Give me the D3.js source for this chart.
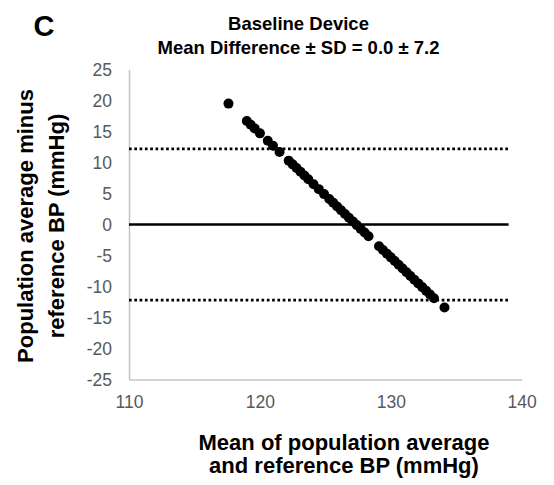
<!DOCTYPE html>
<html>
<head>
<meta charset="utf-8">
<script src="https://cdn.jsdelivr.net/npm/d3@7"></script>
<style>
  html, body { margin: 0; padding: 0; background: #fff; }
  svg { display: block; font-family: "Liberation Sans", Arial, sans-serif; }
</style>
</head>
<body>
<svg id="chart" width="554" height="485"></svg>
<script>
// Bland–Altman points: mean of the two readings (x) and their difference (y), mmHg
const meanBP = [
  117.6,
  119.0, 119.3, 119.6, 120.0,
  120.6, 121.0, 121.5,
  122.2, 122.5, 122.8, 123.1, 123.4, 123.7,
  124.1, 124.5, 124.9,
  125.3, 125.6, 125.9, 126.2, 126.5, 126.8, 127.1, 127.4, 127.7, 128.0, 128.3,
  129.1, 129.4, 129.7, 130.0, 130.3, 130.6, 130.9, 131.2, 131.5, 131.8, 132.1, 132.4, 132.7, 133.0, 133.3,
  134.1
];
const diffBP = [
  19.5,
  16.7, 16.1, 15.5, 14.7,
  13.5, 12.7, 11.7,
  10.3, 9.7, 9.1, 8.5, 7.9, 7.3,
  6.5, 5.7, 4.9,
  4.1, 3.5, 2.9, 2.3, 1.7, 1.1, 0.5, -0.1, -0.7, -1.3, -1.9,
  -3.5, -4.1, -4.7, -5.3, -5.9, -6.5, -7.1, -7.7, -8.3, -8.9, -9.5, -10.1, -10.7, -11.3, -11.9,
  -13.4
];

// Reference lines: mean difference and limits of agreement
const refLevels = [12.2, 0, -12.2];
const refStyles = ["dotted", "solid", "dotted"];
const refSpan = [110, 139];

const xTicks = [110, 120, 130, 140];
const yTicks = [25, 20, 15, 10, 5, 0, -5, -10, -15, -20, -25];

const titleLines = ["Baseline Device", "Mean Difference \u00B1 SD = 0.0 \u00B1 7.2"];
const xTitleLines = ["Mean of population average", "and reference BP (mmHg)"];
const yTitleLines = ["Population average minus", "reference BP (mmHg)"];
const panelLabel = "C";

const svg = d3.select("#chart");

const x = d3.scaleLinear().domain([110, 140]).range([129, 521.7]);
const y = d3.scaleLinear().domain([-25, 25]).range([379.5, 69.5]);

// plain hyphen-minus for negative tick labels
const plainNum = d => String(d);

// axes (no tick marks, light grey axis lines)
const yAxis = svg.append("g")
  .attr("transform", `translate(${x(110)},0)`)
  .call(d3.axisLeft(y).tickValues(yTicks).tickSize(0).tickPadding(17).tickFormat(plainNum));
const xAxis = svg.append("g")
  .attr("transform", `translate(0,${y(-25)})`)
  .call(d3.axisBottom(x).tickValues(xTicks).tickSize(0).tickPadding(16).tickFormat(plainNum));

[yAxis, xAxis].forEach(g => {
  g.select(".domain").attr("stroke", "#c4c4c4").attr("stroke-width", 1.5);
  g.selectAll("text")
    .attr("fill", "#595959")
    .style("font-size", "17.5px")
    .style("font-family", "'Liberation Sans', Arial, sans-serif");
});

// reference lines
svg.append("g").selectAll("line")
  .data(refLevels)
  .join("line")
  .attr("x1", x(refSpan[0]))
  .attr("x2", x(refSpan[1]))
  .attr("y1", d => y(d))
  .attr("y2", d => y(d))
  .attr("stroke", "#000")
  .attr("stroke-width", 2.6)
  .attr("stroke-dasharray", (d, i) => refStyles[i] === "solid" ? null : "2.7,2.6");

// points
svg.append("g").selectAll("circle")
  .data(meanBP.map((m, i) => [m, diffBP[i]]))
  .join("circle")
  .attr("cx", d => x(d[0]))
  .attr("cy", d => y(d[1]))
  .attr("r", 5)
  .attr("fill", "#000");

// chart title
svg.append("text")
  .attr("x", 298.5)
  .attr("y", 29.5)
  .attr("text-anchor", "middle")
  .style("font-size", "18.5px")
  .style("font-weight", "bold")
  .selectAll("tspan")
  .data(titleLines)
  .join("tspan")
  .attr("x", 298.5)
  .attr("dy", (d, i) => i === 0 ? 0 : 24)
  .text(d => d);

// panel letter
svg.append("text")
  .attr("x", 44)
  .attr("y", 36)
  .attr("text-anchor", "middle")
  .style("font-size", "29px")
  .style("font-weight", "bold")
  .text(panelLabel);

// x axis title
svg.append("text")
  .attr("text-anchor", "middle")
  .style("font-size", "22px")
  .style("font-weight", "bold")
  .selectAll("tspan")
  .data(xTitleLines)
  .join("tspan")
  .attr("x", 344)
  .attr("y", (d, i) => i === 0 ? 449.5 : 473)
  .text(d => d);

// y axis title
svg.append("text")
  .attr("transform", "rotate(-90)")
  .attr("text-anchor", "middle")
  .style("font-size", "22px")
  .style("font-weight", "bold")
  .selectAll("tspan")
  .data(yTitleLines)
  .join("tspan")
  .attr("x", -226)
  .attr("y", (d, i) => i === 0 ? 33 : 64)
  .text(d => d);
</script>
</body>
</html>
